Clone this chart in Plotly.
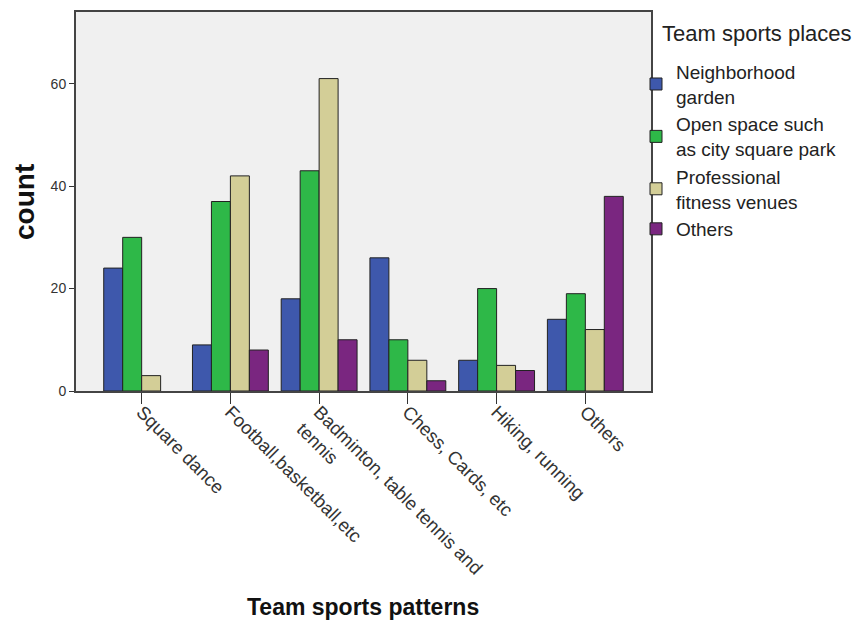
import plotly.graph_objects as go

categories = ["Square dance", "Football,basketball,etc", "Badminton, table tennis and<br>tennis",
              "Chess, Cards, etc", "Hiking, running", "Others"]
series_names = ["Neighborhood<br>garden", "Open space such<br>as city square park",
                "Professional<br>fitness venues", "Others"]
neighborhood = [24, 9, 18, 26, 6, 14]
open_space = [30, 37, 43, 10, 20, 19]
professional = [3, 42, 61, 6, 5, 12]
others = [None, 8, 10, 2, 4, 38]
colors = ["#3e58ac", "#2eb848", "#d3ce97", "#7a2680"]
y_ticks = [0, 20, 40, 60]

fig = go.Figure()
for name, vals, col in zip(series_names, [neighborhood, open_space, professional, others], colors):
    fig.add_trace(go.Bar(x=categories, y=vals, name=name,
                         marker=dict(color=col, line=dict(color="#222222", width=1))))

W, H = 857, 618
L, R, T, B = 68, 214, 2, 235
pw, ph = W - L - R, H - T - B

def px(fx):
    return (fx - L) / pw

def py(fy):
    return (H - B - fy) / ph

fig.update_layout(
    width=W, height=H,
    barmode="group", bargap=0.145, bargroupgap=0,
    paper_bgcolor="white", plot_bgcolor="#f0f0f0",
    margin=dict(l=L, r=R, t=T, b=B),
    font=dict(family="Liberation Sans, Arial", color="#222222"),
    legend=dict(x=px(628), xanchor="left", y=py(43), yanchor="top",
                font=dict(size=19, color="#222222"), tracegroupgap=0, itemwidth=30,
                bgcolor="rgba(0,0,0,0)"),
    showlegend=True,
    annotations=[
        dict(text="Team sports places", xref="paper", yref="paper", x=px(652), y=py(24),
             xanchor="left", yanchor="middle", showarrow=False,
             font=dict(size=22, color="#222222")),
        dict(text="<b>Team sports patterns</b>", xref="paper", yref="paper", x=px(355), y=py(600),
             xanchor="center", yanchor="middle", showarrow=False,
             font=dict(size=23, color="#111111")),
        dict(text="<b>count</b>", xref="paper", yref="paper", x=px(17), y=py(193),
             xanchor="center", yanchor="middle", showarrow=False, textangle=-90,
             font=dict(size=28, color="#111111")),
    ],
)
fig.update_xaxes(range=[-0.74, 5.74], tickangle=45, ticks="outside", ticklen=11,
                 ticklabelstandoff=-10,
                 tickcolor="#333333", tickfont=dict(size=18.5, color="#333333"),
                 showline=True, linecolor="#444444", linewidth=2, mirror=True)
fig.update_yaxes(range=[0, 74], tickvals=y_ticks, ticks="outside", ticklen=5,
                 tickcolor="#333333", tickfont=dict(size=14, color="#333333"),
                 showgrid=False, zeroline=False,
                 showline=True, linecolor="#444444", linewidth=2, mirror=True)

fig.write_html("out.html")
